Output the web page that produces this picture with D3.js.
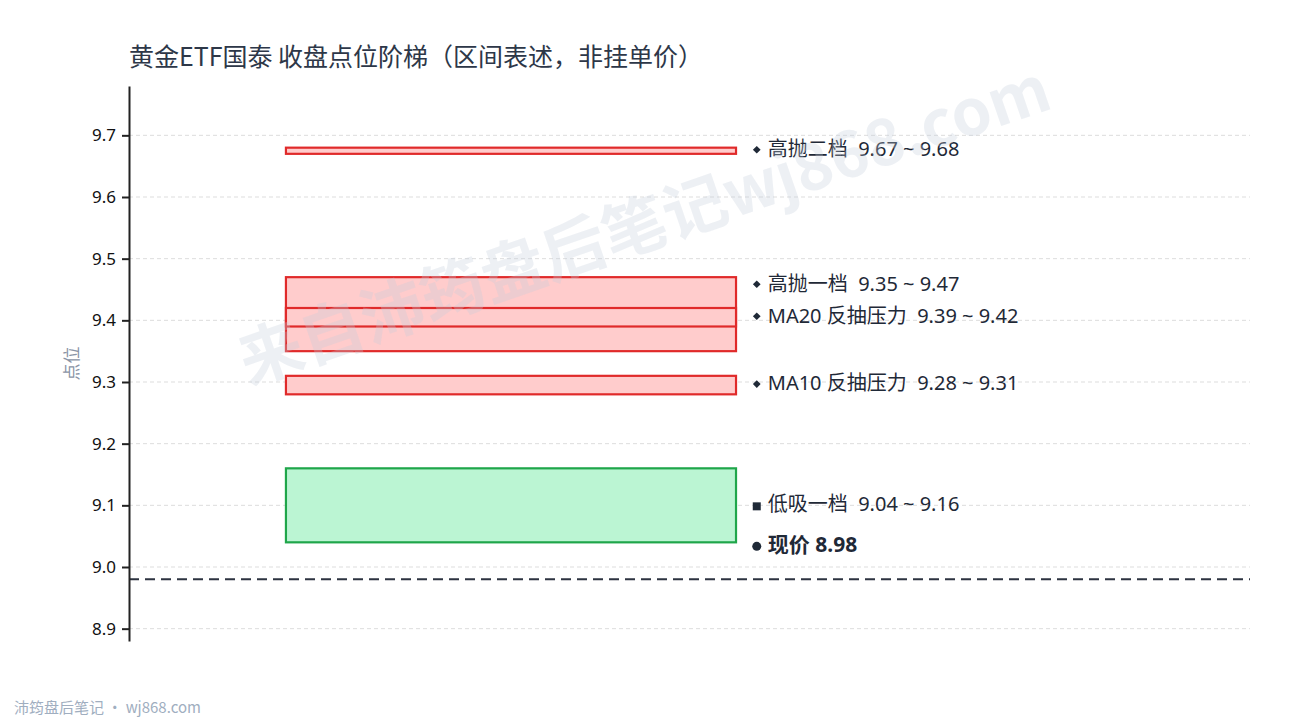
<!DOCTYPE html>
<html>
<head>
<meta charset="utf-8">
<script src="https://cdn.jsdelivr.net/npm/d3@7/dist/d3.min.js"></script>
<style>
  body { margin: 0; background: #ffffff; }
  svg { font-family: "Noto Sans CJK SC", "Noto Sans", sans-serif; }
</style>
</head>
<body>
<div id="chart"></div>
<script>
// price zones
var zoneNames = ["高抛二档", "高抛一档", "MA20 反抽压力", "MA10 反抽压力", "低吸一档"];
var zoneLow = [9.67, 9.35, 9.39, 9.28, 9.04];
var zoneHigh = [9.68, 9.47, 9.42, 9.31, 9.16];
var zoneKind = ["sell", "sell", "sell", "sell", "buy"];
var currentPrice = 8.98;
var yTicks = [8.9, 9.0, 9.1, 9.2, 9.3, 9.4, 9.5, 9.6, 9.7];
var titleText = "黄金ETF国泰 收盘点位阶梯（区间表述，非挂单价）";

function drawChart(){
    var width = 1290, height = 720;
    var margin = {left: 129, right: 1250, top: 86, bottom: 641};
    var labelFont = "'Noto Sans', 'Noto Sans CJK SC', sans-serif";

    var svg = d3.select("#chart").append("svg")
        .attr("width", width)
        .attr("height", height);

    var y = d3.scaleLinear()
        .domain([currentPrice - 0.1, d3.max(zoneHigh) + 0.1])
        .range([margin.bottom, margin.top]);

    var x = d3.scaleLinear().domain([0, 1]).range([margin.left, margin.right]);

    // grid
    svg.append("g").selectAll("line")
        .data(yTicks).enter().append("line")
        .attr("x1", margin.left).attr("x2", margin.right)
        .attr("y1", function(d){ return y(d); })
        .attr("y2", function(d){ return y(d); })
        .attr("stroke", "#dddddd")
        .attr("stroke-width", 1)
        .attr("stroke-dasharray", "4,3");

    var zones = zoneNames.map(function(n, i){
        return {name: n, lo: zoneLow[i], hi: zoneHigh[i], kind: zoneKind[i]};
    });

    svg.append("g").selectAll("rect")
        .data(zones).enter().append("rect")
        .attr("x", x(0.14))
        .attr("width", x(0.5415) - x(0.14))
        .attr("y", function(d){ return y(d.hi); })
        .attr("height", function(d){ return y(d.lo) - y(d.hi); })
        .attr("fill", function(d){ return d.kind === "sell" ? "#ffcccc" : "#bbf5d3"; })
        .attr("stroke", function(d){ return d.kind === "sell" ? "#e02a2a" : "#1fa64a"; })
        .attr("stroke-width", 2.2);

    // current price line
    svg.append("line")
        .attr("x1", margin.left).attr("x2", margin.right)
        .attr("y1", y(currentPrice)).attr("y2", y(currentPrice))
        .attr("stroke", "#2d3340")
        .attr("stroke-width", 2)
        .attr("stroke-dasharray", "10,6");

    // labels start at zone middle, pushed up when too close to the one below
    var order = zones.map(function(d, i){ return i; })
        .sort(function(a, b){ return (zones[a].lo + zones[a].hi) - (zones[b].lo + zones[b].hi); });
    var prev = null;
    order.forEach(function(i){
        var d = zones[i];
        var ly = y((d.lo + d.hi) / 2);
        if (prev !== null) ly = Math.min(ly, prev - 32);
        d.ly = ly;
        prev = ly;
    });

    var lx = x(0.56);
    var labels = svg.append("g").selectAll("g")
        .data(zones).enter().append("g")
        .attr("transform", function(d){ return "translate(" + lx + "," + d.ly + ")"; });

    labels.append("path")
        .attr("d", function(d){
            return d.kind === "sell"
                ? d3.symbol().type(d3.symbolSquare).size(30)()
                : d3.symbol().type(d3.symbolSquare).size(64)();
        })
        .attr("transform", function(d){ return d.kind === "sell" ? "translate(0,-1) rotate(45)" : "translate(0,1)"; })
        .attr("fill", "#1f2937");

    labels.append("text")
        .attr("x", 11)
        .attr("dominant-baseline", "middle")
        .attr("font-size", 20)
        .attr("font-family", labelFont)
        .attr("fill", "#1f2937")
        .attr("xml:space", "preserve")
        .text(function(d){ return d.name + "  " + d.lo.toFixed(2) + " ~ " + d.hi.toFixed(2); });

    var cp = svg.append("g")
        .attr("transform", "translate(" + lx + "," + (y(currentPrice) - 33) + ")");
    cp.append("circle").attr("r", 4.5).attr("cy", 0).attr("fill", "#1f2937");
    cp.append("text")
        .attr("x", 11)
        .attr("dominant-baseline", "middle")
        .attr("font-size", 21)
        .attr("font-weight", "bold")
        .attr("font-family", labelFont)
        .attr("fill", "#1f2937")
        .text("现价 " + currentPrice.toFixed(2));

    // y axis
    var yAxis = svg.append("g")
        .attr("transform", "translate(" + margin.left + ",0)")
        .call(d3.axisLeft(y).tickValues(yTicks).tickFormat(d3.format(".1f")).tickSize(7).tickSizeOuter(0).tickPadding(6));
    yAxis.select(".domain").attr("stroke", "#222222").attr("stroke-width", 2);
    yAxis.selectAll(".tick line").attr("stroke", "#222222").attr("stroke-width", 2);
    yAxis.selectAll(".tick text")
        .attr("font-size", 17)
        .attr("fill", "#111111")
        .attr("font-family", "'Noto Sans', sans-serif");

    svg.append("text")
        .attr("transform", "translate(73," + ((margin.top + margin.bottom) / 2) + ") rotate(-90)")
        .attr("text-anchor", "middle")
        .attr("dominant-baseline", "middle")
        .attr("font-size", 17)
        .attr("fill", "#8a94a6")
        .text("点位");

    svg.append("text")
        .attr("x", margin.left)
        .attr("y", 66)
        .attr("font-size", 25)
        .attr("fill", "#2d3748")
        .text(titleText);

    svg.append("text")
        .attr("x", 14)
        .attr("y", 713)
        .attr("font-size", 15)
        .attr("fill", "#a0aec0")
        .text("沛筠盘后笔记 · wj868.com");

    // watermark, on top of the marks
    svg.append("text")
        .attr("transform", "translate(646,230) rotate(-19)")
        .attr("text-anchor", "middle")
        .attr("dominant-baseline", "middle")
        .attr("font-size", 64)
        .attr("font-weight", "bold")
        .attr("fill", "#c4ccd9")
        .attr("fill-opacity", 0.3)
        .text("来自沛筠盘后笔记wj868.com");
}

drawChart();
</script>
</body>
</html>
